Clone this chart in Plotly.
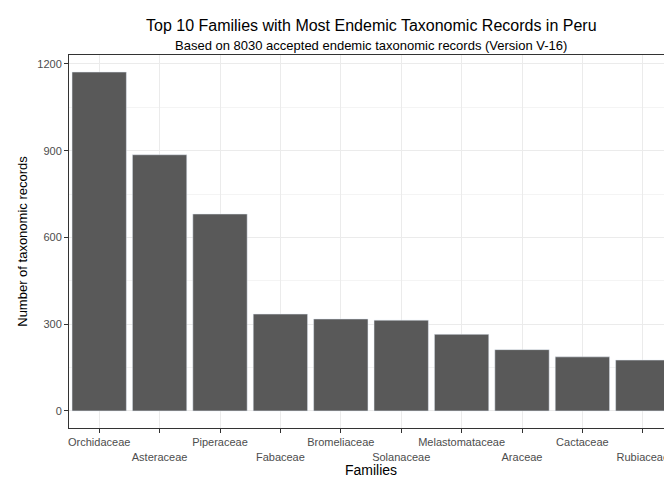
import plotly.graph_objects as go

families = ["Orchidaceae", "Asteraceae", "Piperaceae", "Fabaceae", "Bromeliaceae",
            "Solanaceae", "Melastomataceae", "Araceae", "Cactaceae", "Rubiaceae"]
records = [1172, 886, 681, 335, 318, 314, 265, 212, 187, 176]

# dodge labels over two rows like ggplot's n.dodge = 2
tick_labels = [f if i % 2 == 0 else "<br>" + f for i, f in enumerate(families)]

fig = go.Figure()
fig.add_trace(go.Bar(x=families, y=records, marker_color="#595959", width=0.9))

fig.update_layout(
    width=672, height=480,
    margin=dict(l=61, r=7, t=47, b=60),
    plot_bgcolor="white", paper_bgcolor="white",
    font=dict(family="Liberation Sans, Arial", size=12, color="black"),
    showlegend=False,
    bargap=0.1,
)
fig.update_xaxes(
    tickvals=families, ticktext=tick_labels, tickangle=0,
    tickfont=dict(size=11, color="#4d4d4d"),
    ticks="outside", ticklen=4, tickcolor="#333333",
    showgrid=True, gridcolor="#ebebeb",
    showline=True, linecolor="#333333", mirror=True,
    title=dict(text="Families", font=dict(size=14), standoff=2),
)
fig.update_yaxes(
    range=[-59, 1231], tickvals=[0, 300, 600, 900, 1200],
    tickfont=dict(size=11, color="#4d4d4d"),
    ticks="outside", ticklen=4, tickcolor="#333333",
    showgrid=True, gridcolor="#ebebeb", zeroline=False,
    minor=dict(tick0=0, dtick=150, showgrid=True, gridcolor="#f4f4f4"),
    showline=True, linecolor="#333333", mirror=True,
    title=dict(text="Number of taxonomic records", font=dict(size=13), standoff=6),
)
fig.add_annotation(text="Top 10 Families with Most Endemic Taxonomic Records in Peru",
                   xref="paper", yref="paper", x=0.5, y=1, yshift=40, showarrow=False,
                   font=dict(size=16), yanchor="top")
fig.add_annotation(text="Based on 8030 accepted endemic taxonomic records (Version V-16)",
                   xref="paper", yref="paper", x=0.5, y=1, yshift=19, showarrow=False,
                   font=dict(size=13), yanchor="top")

fig.write_html("out.html")
